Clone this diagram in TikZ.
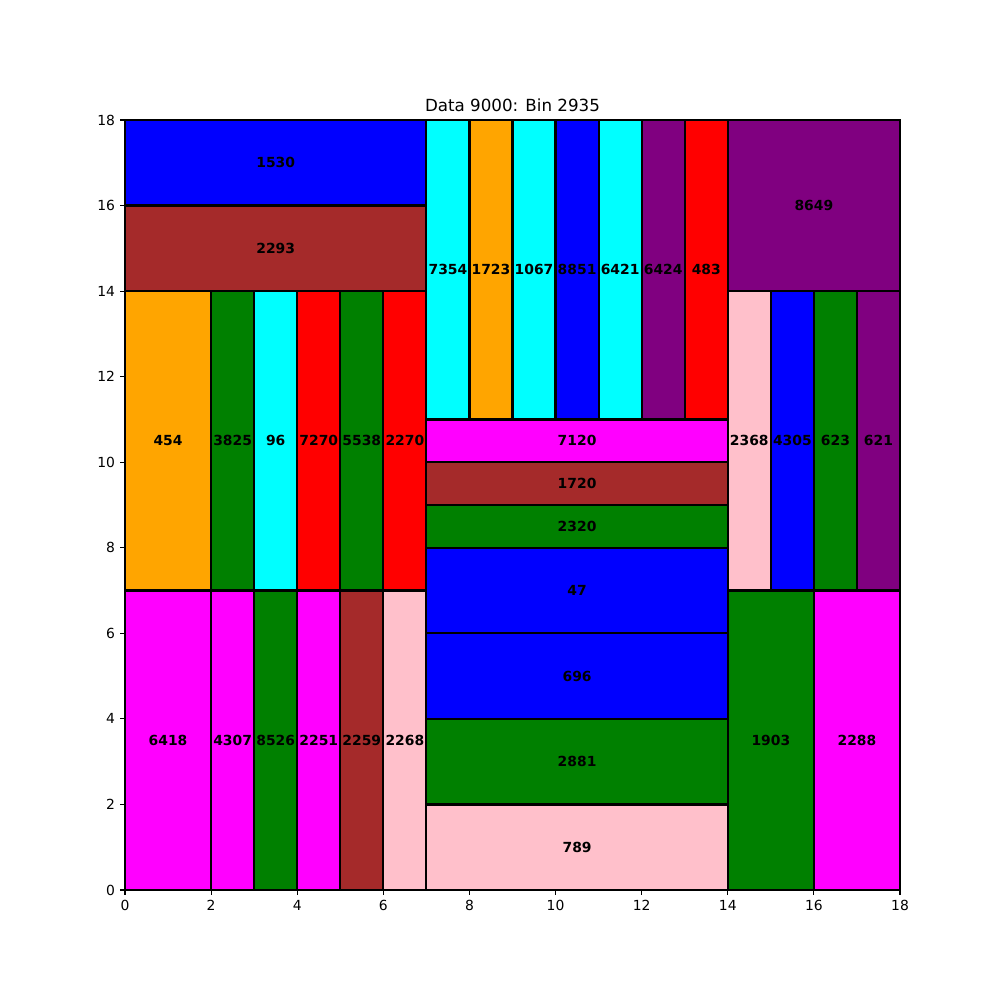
\documentclass[tikz,border=0pt]{standalone}
\usepackage{fontspec}
\setmainfont{DejaVu Sans}
\usepackage{xcolor}
\usetikzlibrary{positioning}

\definecolor{cblue}{HTML}{0000FF}
\definecolor{cbrown}{HTML}{A52A2A}
\definecolor{corange}{HTML}{FFA500}
\definecolor{cgreen}{HTML}{008000}
\definecolor{ccyan}{HTML}{00FFFF}
\definecolor{cred}{HTML}{FF0000}
\definecolor{cmagenta}{HTML}{FF00FF}
\definecolor{cpink}{HTML}{FFC0CB}
\definecolor{cpurple}{HTML}{800080}

\begin{document}
\begin{tikzpicture}[x=43.056pt, y=42.778pt]
\tikzstyle{item} = [draw=black, line width=2.2pt]
\tikzstyle{tag} = [font=\fontsize{13.9}{16}\selectfont\bfseries, inner sep=0pt]
\tikzstyle{axis} = [line width=1.1pt]
\tikzstyle{ticklabel} = [font=\fontsize{13.9}{16}\selectfont, inner sep=0pt]

\useasboundingbox[fill=white] (-2.9032,-2.5714) rectangle (20.3226,20.8052);

% Packed items: x/y/width/height/colour/label
\foreach \x/\y/\w/\h/\c/\t in {
  0/16/7/2/cblue/1530, 0/14/7/2/cbrown/2293,
  0/7/2/7/corange/454, 2/7/1/7/cgreen/3825, 3/7/1/7/ccyan/96,
  4/7/1/7/cred/7270, 5/7/1/7/cgreen/5538, 6/7/1/7/cred/2270,
  0/0/2/7/cmagenta/6418, 2/0/1/7/cmagenta/4307, 3/0/1/7/cgreen/8526,
  4/0/1/7/cmagenta/2251, 5/0/1/7/cbrown/2259, 6/0/1/7/cpink/2268,
  7/11/1/7/ccyan/7354, 8/11/1/7/corange/1723, 9/11/1/7/ccyan/1067,
  10/11/1/7/cblue/8851, 11/11/1/7/ccyan/6421, 12/11/1/7/cpurple/6424,
  13/11/1/7/cred/483,
  7/10/7/1/cmagenta/7120, 7/9/7/1/cbrown/1720, 7/8/7/1/cgreen/2320,
  7/6/7/2/cblue/47, 7/4/7/2/cblue/696, 7/2/7/2/cgreen/2881,
  7/0/7/2/cpink/789,
  14/14/4/4/cpurple/8649,
  14/7/1/7/cpink/2368, 15/7/1/7/cblue/4305, 16/7/1/7/cgreen/623,
  17/7/1/7/cpurple/621,
  14/0/2/7/cgreen/1903, 16/0/2/7/cmagenta/2288} {
  \filldraw[item, fill=\c] (\x,\y) rectangle ++(\w,\h);
  \node[tag] (n\t) at (\x+\w/2, \y+\h/2) {\t};
}

% Axes frame and ticks
\draw[axis] (0,0) rectangle (18,18);
\foreach \v in {0,2,...,18} {
  \draw[axis] (\v,0) -- ++(0,-4.86pt) coordinate (xt\v);
  \node[ticklabel, below=4.86pt of xt\v] (xl\v) {\v};
  \draw[axis] (0,\v) -- ++(-4.86pt,0) coordinate (yt\v);
  \node[ticklabel, left=4.86pt of yt\v] (yl\v) {\v};
}

% Title
\node[font=\fontsize{16.7}{20}\selectfont, anchor=base, inner sep=0pt] (title) at (9,18.195) {Data 9000: Bin 2935};
\end{tikzpicture}
\end{document}
